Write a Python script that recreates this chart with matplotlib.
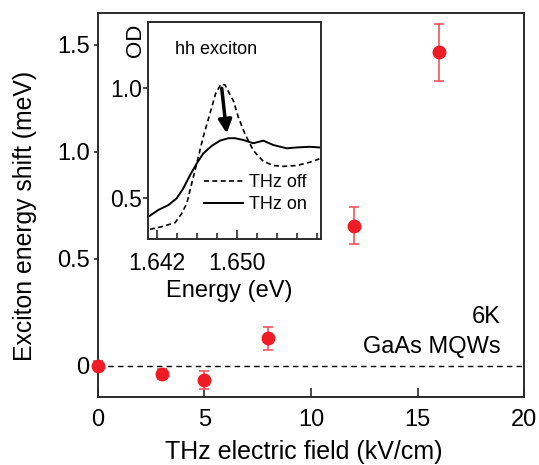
import numpy as np
import matplotlib
matplotlib.use('Agg')
import matplotlib.pyplot as plt

plt.rcParams['font.family'] = ['Liberation Sans', 'DejaVu Sans']

# main panel: exciton shift vs THz field
field = [0, 3, 5, 8, 12, 16]
shift = [0.0, -0.039, -0.067, 0.128, 0.654, 1.465]
shift_err = [0.02, 0.022, 0.043, 0.053, 0.086, 0.133]

# inset: OD spectra
e_off = [1.64133, 1.6425, 1.64383, 1.6445, 1.6450, 1.6455, 1.6460, 1.64666, 1.64733,
         1.6479, 1.64843, 1.64883, 1.64943, 1.64966, 1.65016, 1.65083, 1.65166,
         1.65266, 1.65366, 1.65466, 1.6560, 1.65733, 1.65826]
od_off = [0.359, 0.371, 0.389, 0.431, 0.476, 0.567, 0.658, 0.780, 0.886,
          0.977, 1.019, 1.015, 0.962, 0.944, 0.868, 0.792, 0.717,
          0.668, 0.649, 0.645, 0.649, 0.664, 0.679]
e_on = [1.64116, 1.64216, 1.64316, 1.6440, 1.64466, 1.64533, 1.6460, 1.64666, 1.6475,
        1.64833, 1.64916, 1.64983, 1.65066, 1.65166, 1.65266, 1.65366, 1.6550,
        1.6560, 1.65733, 1.65826]
od_on = [0.416, 0.447, 0.469, 0.500, 0.545, 0.605, 0.658, 0.704, 0.738,
         0.762, 0.773, 0.773, 0.765, 0.750, 0.762, 0.742, 0.727,
         0.731, 0.734, 0.731]

red = '#ee1c25'
spine_c = '#2b2b2b'

fig = plt.figure(figsize=(5.39, 4.65), dpi=100)
ax = fig.add_axes([0.1818, 0.1469, 0.7904, 0.8241])

ax.axhline(0, color='k', lw=1.0, ls=(0, (4, 3)), zorder=1)
ax.errorbar(field, shift, yerr=shift_err, fmt='o', ms=9, color=red, mec=red,
            ecolor='#f0565c', elinewidth=1.2, capsize=3.5, capthick=1.2,
            zorder=3, clip_on=False)

ax.set_xlim(0, 20)
ax.set_ylim(-0.145, 1.647)
ax.set_xticks([0, 5, 10, 15, 20])
ax.set_yticks([0, 0.5, 1.0, 1.5])
ax.set_yticklabels(['0', '0.5', '1.0', '1.5'])
ax.tick_params(axis='x', direction='in', length=6.5, width=1.2, pad=9, labelsize=17,
               color=spine_c)
ax.tick_params(axis='y', direction='out', length=3, width=1.2, pad=3, labelsize=17,
               color=spine_c)
for s in ax.spines.values():
    s.set_linewidth(1.4)
    s.set_color(spine_c)
ax.set_xlabel('THz electric field (kV/cm)', fontsize=18, labelpad=6)
ax.set_ylabel('Exciton energy shift (meV)', fontsize=17.8, labelpad=14)
ax.xaxis.label.set_x(0.4836)
ax.yaxis.label.set_y(0.4716)

ax.text(0.944, 0.208, '6K', transform=ax.transAxes, ha='right', va='center', fontsize=17)
ax.text(0.944, 0.130, 'GaAs MQWs', transform=ax.transAxes, ha='right', va='center',
        fontsize=17)

# inset
ax_in = fig.add_axes([0.2746, 0.486, 0.321, 0.4667])
ax_in.plot(e_off, od_off, color='k', lw=1.2, dashes=(3, 2), label='THz off')
ax_in.plot(e_on, od_on, color='k', lw=1.4, label='THz on')
ax_in.annotate('', xy=(1.6490, 0.795), xytext=(1.6485, 1.0),
               arrowprops=dict(arrowstyle='-|>', lw=2.5, color='k',
                               mutation_scale=20, shrinkA=0, shrinkB=0))
ax_in.set_xlim(1.64113, 1.65843)
ax_in.set_ylim(0.315, 1.301)
ax_in.set_xticks([1.642, 1.650])
ax_in.set_xticks(np.arange(1.644, 1.6585, 0.002), minor=True)
ax_in.set_xticklabels(['1.642', '1.650'])
ax_in.set_yticks([0.5, 1.0])
ax_in.set_yticklabels(['0.5', '1.0'])
ax_in.tick_params(axis='x', which='major', direction='in', length=6.5, width=1.2,
                  pad=9, labelsize=16.5, color=spine_c)
ax_in.tick_params(axis='x', which='minor', direction='in', length=4, width=1.2,
                  color=spine_c)
ax_in.tick_params(axis='y', direction='out', length=3.5, width=1.2, pad=0.5,
                  labelsize=16.5, color=spine_c)
for s in ax_in.spines.values():
    s.set_linewidth(1.4)
    s.set_color(spine_c)
ax_in.set_xlabel('Energy (eV)', fontsize=17, labelpad=4)
ax_in.xaxis.label.set_x(0.472)
ax_in.text(-0.075, 0.917, 'OD', transform=ax_in.transAxes, rotation=90,
           ha='center', va='center', fontsize=16)
ax_in.text(0.156, 0.871, 'hh exciton', transform=ax_in.transAxes, ha='left',
           va='center', fontsize=13)
ax_in.legend(loc='lower right', bbox_to_anchor=(0.99, 0.06), frameon=False,
             fontsize=13, handlelength=2.2, handletextpad=0.3, labelspacing=0.3,
             borderpad=0.2)

fig.savefig('out.png', dpi=100)
plt.close(fig)
